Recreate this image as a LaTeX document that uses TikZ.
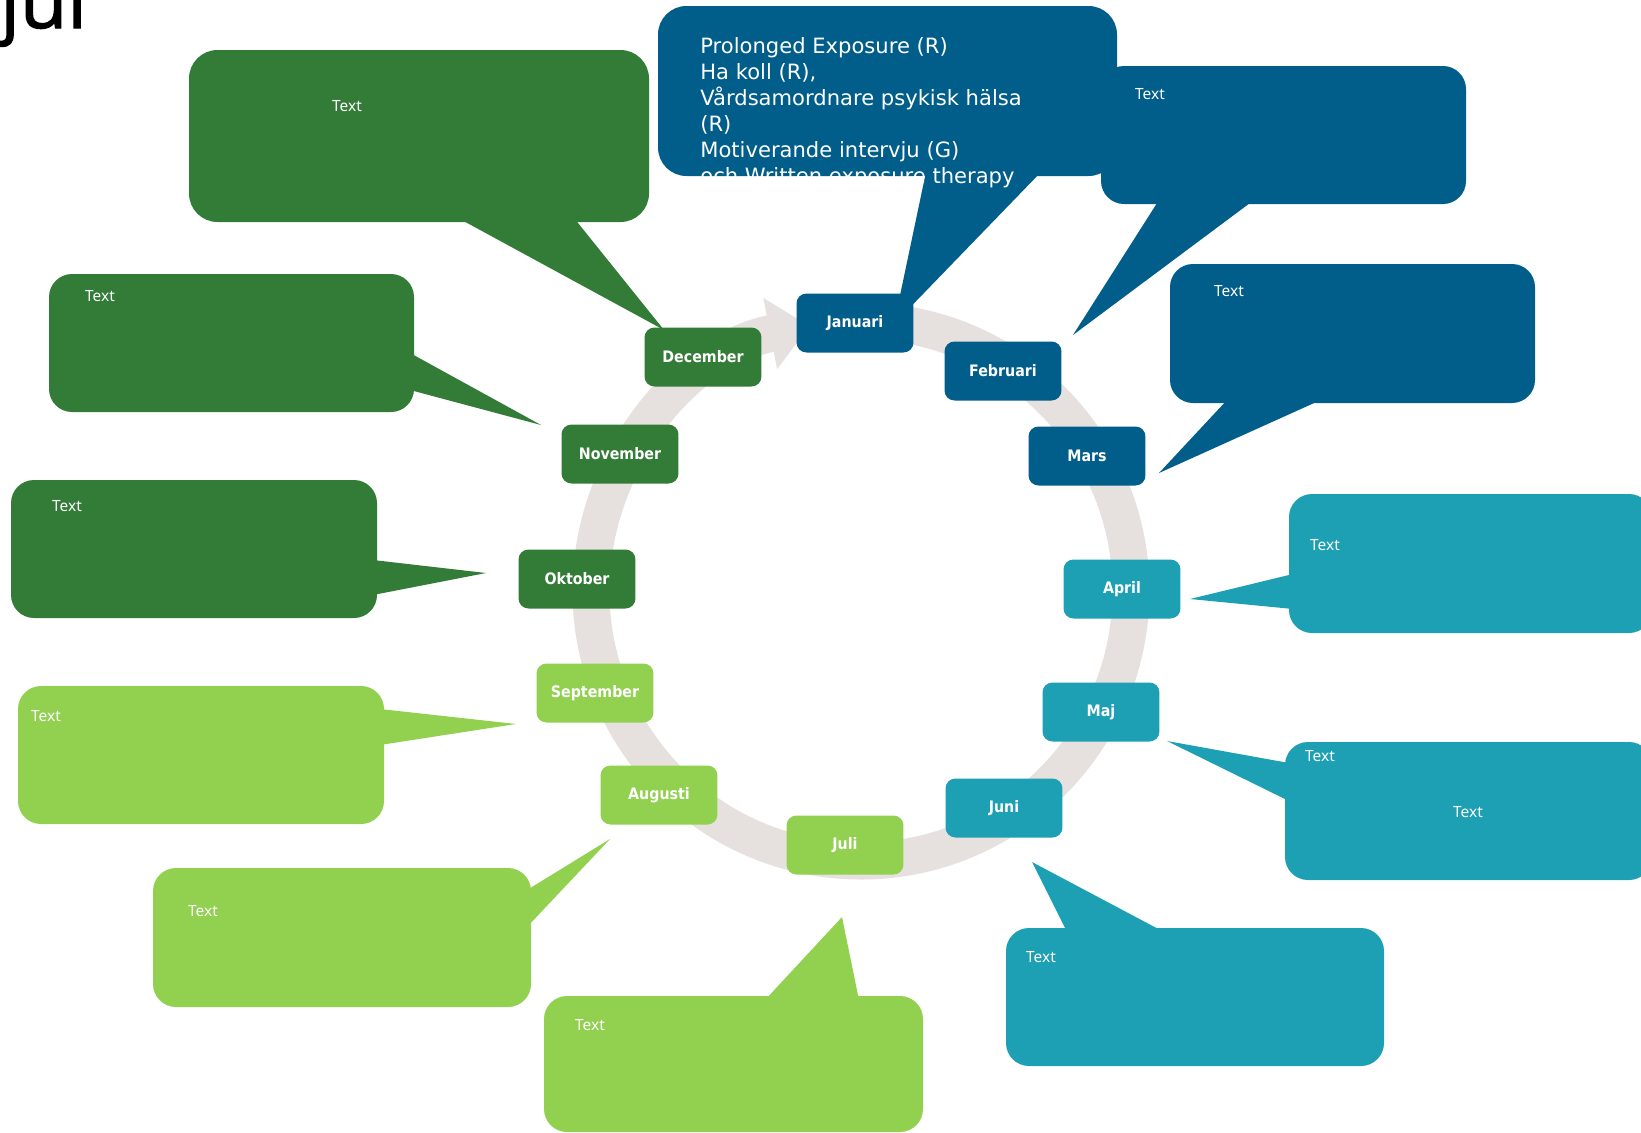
\documentclass[tikz,border=0pt]{standalone}
\usepackage{fontspec}
\setmainfont{DejaVu Sans}
\newfontfamily\monthfont{DejaVu Sans}[FakeStretch=0.9]
\newfontfamily\notefont{Noto Sans}
\newfontfamily\titlefont{Open Sans}[FakeBold=1.5]
\usetikzlibrary{arrows.meta}
\definecolor{wheelblue}{RGB}{1,93,137}
\definecolor{wheelteal}{RGB}{29,160,180}
\definecolor{wheeldark}{RGB}{51,124,55}
\definecolor{wheellight}{RGB}{146,208,80}
\definecolor{wheelring}{RGB}{230,225,222}
\tikzset{
  year-ring/.style={
    draw=wheelring,
    line width=0.74cm,
    -{Triangle[width=1.4cm, length=0.8cm]}
  },
  month-box/.style={
    rounded corners=0.2cm,
    minimum width=2.34cm,
    minimum height=1.18cm,
    inner sep=0pt,
    text=white,
    font=\monthfont\bfseries\fontsize{9}{11}\selectfont
  },
  note-text/.style={inner sep=0pt, text=white, font=\notefont\fontsize{8.8}{10}\selectfont},
  long-text/.style={inner sep=0pt, text=white, align=left, font=\fontsize{12}{14.7}\selectfont}
}
\newcommand{\speechbubble}[4]{
  \fill[#1, rounded corners=#2] #3;
  \fill[#1] #4 -- cycle;
}

\begin{document}
\begin{tikzpicture}[x=0.02cm, y=-0.02cm]
  \useasboundingbox (0,0) rectangle (1641,1133);
  % Title, cut by the top edge
  \node[anchor=base west, inner sep=0pt, font=\titlefont\fontsize{44}{52}\selectfont] (title) at (0,28) {jul};
  % Year ring with arrow
  \draw[year-ring] (861,591) ++(-85:270) arc[start angle=-85, end angle=259, radius=270];
  % Callouts, spring
  \speechbubble{wheelblue}{0.57cm}{(658,6) rectangle (1117,176)}{(926,172) -- (894,324) -- (1041,172)}
  \speechbubble{wheelblue}{0.46cm}{(1101,66) rectangle (1466,204)}{(1159,200) -- (1073,335) -- (1254,200)}
  \speechbubble{wheelblue}{0.46cm}{(1170,264) rectangle (1535,403)}{(1228,399) -- (1159,473) -- (1323,399)}
  \speechbubble{wheelteal}{0.46cm}{(1289,494) rectangle (1652,633)}{(1293,574) -- (1190,599) -- (1293,609)}
  \speechbubble{wheelteal}{0.46cm}{(1285,742) rectangle (1652,880)}{(1289,763) -- (1167,741) -- (1289,801)}
  \speechbubble{wheelteal}{0.46cm}{(1006,928) rectangle (1384,1066)}{(1067,932) -- (1032,862) -- (1164,932)}
  % Callouts, autumn
  \speechbubble{wheellight}{0.46cm}{(544,996) rectangle (923,1132)}{(765,1000) -- (842,917) -- (859,1000)}
  \speechbubble{wheellight}{0.46cm}{(153,868) rectangle (531,1007)}{(527,890) -- (610,839) -- (527,927)}
  \speechbubble{wheellight}{0.46cm}{(18,686) rectangle (384,824)}{(380,709) -- (516,724) -- (380,745)}
  \speechbubble{wheeldark}{0.46cm}{(11,480) rectangle (377,618)}{(373,560) -- (486,573) -- (373,595)}
  \speechbubble{wheeldark}{0.46cm}{(49,274) rectangle (414,412)}{(410,353) -- (541,425) -- (410,390)}
  \speechbubble{wheeldark}{0.57cm}{(189,50) rectangle (649,222)}{(458,218) -- (664,330) -- (574,218)}
  % Callout texts
  \node[long-text, anchor=base west] (jan-text) at (700,183) {Prolonged Exposure (R)\\Ha koll (R),\\Vårdsamordnare psykisk hälsa\\(R)\\Motiverande intervju (G)\\och Written exposure therapy};
  \node[note-text] (feb-text) at (1150,94) {Text};
  \node[note-text] (mar-text) at (1229,291) {Text};
  \node[note-text] (apr-text) at (1325,545) {Text};
  \node[note-text] (maj-text) at (1320,756) {Text};
  \node[note-text] (maj-text2) at (1468,812) {Text};
  \node[note-text] (jun-text) at (1041,957) {Text};
  \node[note-text] (jul-text) at (590,1025) {Text};
  \node[note-text] (aug-text) at (203,911) {Text};
  \node[note-text] (sep-text) at (46,716) {Text};
  \node[note-text] (okt-text) at (67,506) {Text};
  \node[note-text] (nov-text) at (100,296) {Text};
  \node[note-text] (dec-text) at (347,106) {Text};
  % Months
  \node[month-box, fill=wheelblue] (jan) at (855,323) {Januari};
  \node[month-box, fill=wheelblue] (feb) at (1003,371) {Februari};
  \node[month-box, fill=wheelblue] (mar) at (1087,456) {Mars};
  \node[month-box, fill=wheelteal] (apr) at (1122,589) {April};
  \node[month-box, fill=wheelteal] (maj) at (1101,712) {Maj};
  \node[month-box, fill=wheelteal] (jun) at (1004,808) {Juni};
  \node[month-box, fill=wheellight] (jul) at (845,845) {Juli};
  \node[month-box, fill=wheellight] (aug) at (659,795) {Augusti};
  \node[month-box, fill=wheellight] (sep) at (595,693) {September};
  \node[month-box, fill=wheeldark] (okt) at (577,579) {Oktober};
  \node[month-box, fill=wheeldark] (nov) at (620,454) {November};
  \node[month-box, fill=wheeldark] (dec) at (703,357) {December};
\end{tikzpicture}
\end{document}
